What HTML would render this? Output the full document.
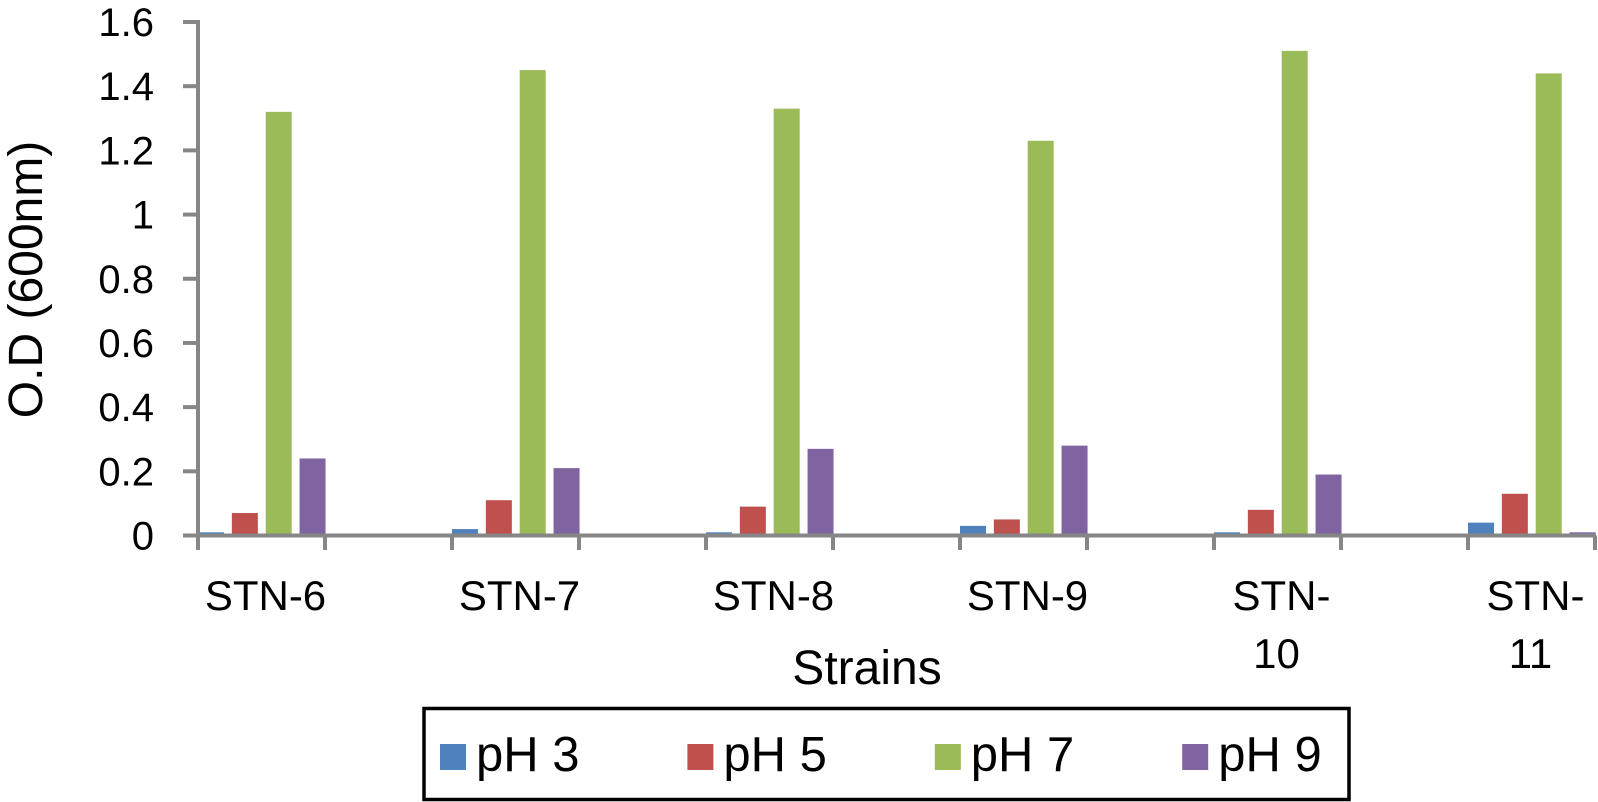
<!DOCTYPE html>
<html lang="en">
<head>
<meta charset="utf-8">
<title>O.D by strain and pH</title>
<style>
  html, body { margin: 0; padding: 0; background: #fff; }
  body { width: 1598px; height: 802px; overflow: hidden; }
  svg { display: block; font-family: "Liberation Sans", sans-serif; fill: #000; }
</style>
</head>
<body>
<svg id="chart" xmlns="http://www.w3.org/2000/svg" width="1598" height="802" viewBox="0 0 1598 802"></svg>
<script>
const categories = ["STN-6", "STN-7", "STN-8", "STN-9", "STN-10", "STN-11"];
const seriesNames = ["pH 3", "pH 5", "pH 7", "pH 9"];
const seriesColors = ["#4f81bd", "#c0504d", "#9bbb59", "#8064a2"];
const ph3Values = [0.01, 0.02, 0.01, 0.03, 0.01, 0.04];
const ph5Values = [0.07, 0.11, 0.09, 0.05, 0.08, 0.13];
const ph7Values = [1.32, 1.45, 1.33, 1.23, 1.51, 1.44];
const ph9Values = [0.24, 0.21, 0.27, 0.28, 0.19, 0.01];
const yTickValues = [0, 0.2, 0.4, 0.6, 0.8, 1, 1.2, 1.4, 1.6];

const svg = document.getElementById('chart');
const NS = 'http://www.w3.org/2000/svg';
const allSeries = [ph3Values, ph5Values, ph7Values, ph9Values];

function make(tag, attrs, text) {
  const el = document.createElementNS(NS, tag);
  for (const k in attrs) el.setAttribute(k, attrs[k]);
  if (text !== undefined) el.textContent = text;
  svg.appendChild(el);
  return el;
}

const yBase = 535.5, yUnit = (535.5 - 22) / 1.6;
const xLeft = 198, slot = 127;
function yScale(v) { return yBase - v * yUnit; }
function groupLeft(i) { return xLeft + i * 2 * slot; }
function barLeft(i, s) { return groupLeft(i) + s * 33.85; }
const barWidth = 26;
const axisColor = '#868686';

/* bars */
categories.forEach(function (cat, i) {
  allSeries.forEach(function (vals, s) {
    const top = yScale(vals[i]);
    const bar = make('rect', { x: barLeft(i, s), y: top, width: barWidth, height: yBase - top, fill: seriesColors[s] });
    
    
  });
});

/* y axis */
const yAxis = make('line', { x1: xLeft, x2: xLeft, y1: 20, y2: yBase, stroke: axisColor, 'stroke-width': 4 });



yTickValues.forEach(function (v) {
  const y = yScale(v);
  const tick = make('line', { x1: 183, x2: xLeft, y1: y, y2: y, stroke: axisColor, 'stroke-width': 4 });
  
  
  const label = make('text', { x: 154, y: y + 14, 'text-anchor': 'end', 'font-size': 40 }, String(v));
  
  
});

/* x axis */
const xAxis = make('line', { x1: 183, x2: xLeft + 11 * slot + 1, y1: yBase, y2: yBase, stroke: axisColor, 'stroke-width': 4 });



categories.forEach(function (cat, i) {
  [0, 1].forEach(function (k) {
    const x = groupLeft(i) + k * slot;
    const tick = make('line', { x1: x, x2: x, y1: yBase, y2: 550, stroke: axisColor, 'stroke-width': 4 });
    
    
  });
  const cx = groupLeft(i) + slot / 2;
  const wrapped = cat.length > 5;
  const firstLine = wrapped ? cat.slice(0, 4) : cat;
  const label = make('text', { x: cx + 4, y: 610, 'text-anchor': 'middle', 'font-size': 42 }, firstLine);
  
  
  if (wrapped) {
    const second = make('text', { x: cx - 1, y: 668, 'text-anchor': 'middle', 'font-size': 42 }, cat.slice(4));
    
    
  }
});

/* axis titles */
const yTitle = make('text', { x: 0, y: 0, transform: 'translate(42 279.5) rotate(-90)', 'text-anchor': 'middle', 'font-size': 48 }, 'O.D (600nm)');



const xTitle = make('text', { x: 867, y: 684, 'text-anchor': 'middle', 'font-size': 48 }, 'Strains');



/* legend */
const legendBox = make('rect', { x: 424, y: 708.5, width: 925, height: 91, fill: '#fff', stroke: '#000', 'stroke-width': 3.5 });



seriesNames.forEach(function (name, s) {
  const lx = 440 + s * 247.4;
  const swatch = make('rect', { x: lx, y: 744, width: 26, height: 26, fill: seriesColors[s] });
  
  
  const label = make('text', { x: lx + 36, y: 771, 'font-size': 49 }, name);
  
  
});
</script>
</body>
</html>
